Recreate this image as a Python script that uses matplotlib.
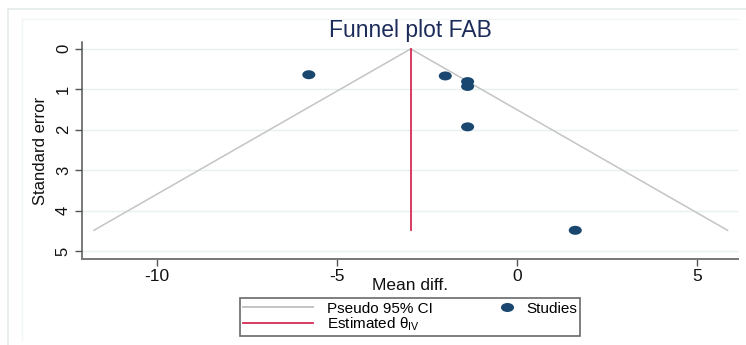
import numpy as np
import matplotlib
matplotlib.use("Agg")
import matplotlib.pyplot as plt
from matplotlib.lines import Line2D
from matplotlib.legend_handler import HandlerLine2D
from matplotlib.markers import MarkerStyle
from matplotlib.transforms import Affine2D

plt.rcParams["font.family"] = ["Liberation Sans", "DejaVu Sans"]
plt.rcParams["mathtext.fontset"] = "custom"
plt.rcParams["mathtext.rm"] = "Liberation Sans"
plt.rcParams["mathtext.it"] = "Liberation Sans:italic"

# Study estimates (mean difference) and their standard errors
study_effect = [-5.78, -1.99, -1.37, -1.37, -1.37, 1.62]
study_se = [0.64, 0.67, 0.81, 0.93, 1.93, 4.49]
theta_iv = -2.95  # inverse-variance pooled estimate

x_ticks = [-10, -5, 0, 5]
y_ticks = [0, 1, 2, 3, 4, 5]

NAVY = "#1a476f"
RED = "#d62a55"
CI_GRAY = "#c4c4c4"
GRID = "#e8f0f2"
TITLE = "#1c2c5a"

W, H = 746, 345
fig = plt.figure(figsize=(W / 100, H / 100), dpi=100)
fig.patch.set_facecolor("white")

# faint frame lines around the graph region
fig.add_artist(Line2D([8 / W, 8 / W], [0, 1 - 9 / H], color="#e4eaea", lw=1.2))
fig.add_artist(Line2D([8 / W, 1], [1 - 9 / H, 1 - 9 / H], color="#e4eaea", lw=1.2))
fig.add_artist(Line2D([22 / W, 22 / W], [5 / H, 1 - 19 / H], color="#f1f5f5", lw=1))
fig.add_artist(Line2D([22 / W, 1 - 8 / W], [1 - 19 / H, 1 - 19 / H], color="#f1f5f5", lw=1))

ax = fig.add_axes([82 / W, 1 - 259 / H, (738 - 82) / W, (259 - 42) / H])
ax.set_facecolor("white")

# pseudo 95% confidence limits
se_max = max(study_se)
se_line = np.array([0.0, se_max])
ax.plot(theta_iv - 1.96 * se_line, se_line, color=CI_GRAY, lw=1.1, zorder=2)
ax.plot(theta_iv + 1.96 * se_line, se_line, color=CI_GRAY, lw=1.1, zorder=2)

# pooled estimate
ax.plot([theta_iv, theta_iv], [0, se_max], color=RED, lw=1.3, zorder=3)

# studies
dot = MarkerStyle("o", transform=Affine2D().scale(1.45, 1.0))
ax.scatter(study_effect, study_se, marker=dot, s=42, color=NAVY,
           edgecolors="none", zorder=4)

ax.set_xlim(-12.08, 6.14)
ax.set_ylim(5.2, -0.17)
ax.set_xticks(x_ticks)
ax.set_yticks(y_ticks)
ax.set_xticklabels([str(t) for t in x_ticks], fontsize=12.5)
ax.set_yticklabels([str(t) for t in y_ticks], fontsize=12, rotation=90,
                   va="center")

ax.grid(axis="y", color=GRID, lw=1.0, zorder=0)
ax.grid(axis="x", visible=False)
ax.set_axisbelow(True)

for side in ("top", "right"):
    ax.spines[side].set_visible(False)
ax.spines["left"].set_color("#555555")
ax.spines["bottom"].set_color("#777777")
ax.spines["left"].set_linewidth(1.1)
ax.spines["bottom"].set_linewidth(1.4)
ax.tick_params(axis="both", direction="out", length=5, width=1,
               color="#555555", labelcolor="#111111")
ax.tick_params(axis="x", pad=2)
ax.tick_params(axis="y", pad=3)

ax.set_xlabel("Mean diff.", fontsize=12.5, color="#111111")
ax.xaxis.set_label_coords(0.5, -0.088)
ax.set_ylabel("Standard error", fontsize=12, color="#111111",
              family=["Liberation Sans Narrow", "Liberation Sans", "DejaVu Sans"])
ax.yaxis.set_label_coords(-0.052, 0.5)

fig.text(410 / W, 1 - 31 / H, "Funnel plot FAB", ha="center", va="center",
         fontsize=16.5, color=TITLE)


class MarkerAtRight(HandlerLine2D):
    """Legend handler that puts a lone marker near the right end of the handle."""

    def get_xdata(self, legend, xdescent, ydescent, width, height, fontsize):
        right = -xdescent + width
        xdata = np.array([right - 0.7 * fontsize, right])
        return xdata, xdata


h_ci = Line2D([], [], color=CI_GRAY, lw=1.4)
h_est = Line2D([], [], color=RED, lw=1.3)
h_st = Line2D([], [], ls="none", marker=dot, markersize=6.5, color=NAVY,
              markeredgewidth=0)
leg = fig.legend([h_ci, h_est, h_st],
                 ["Pseudo 95% CI", r"Estimated θ$_{\mathrm{IV}}$", "Studies"],
                 ncol=2, loc="lower center",
                 bbox_to_anchor=(410 / W, 9 / H), bbox_transform=fig.transFigure,
                 fontsize=11, frameon=True, fancybox=False, shadow=False,
                 handlelength=4.6, handletextpad=0.9, columnspacing=0.6,
                 borderpad=0.2, labelspacing=0.0, borderaxespad=0,
                 handler_map={h_st: MarkerAtRight()})
leg.get_frame().set_edgecolor("#444444")
leg.get_frame().set_linewidth(1.2)

fig.savefig("out.png", dpi=100, facecolor="white")
